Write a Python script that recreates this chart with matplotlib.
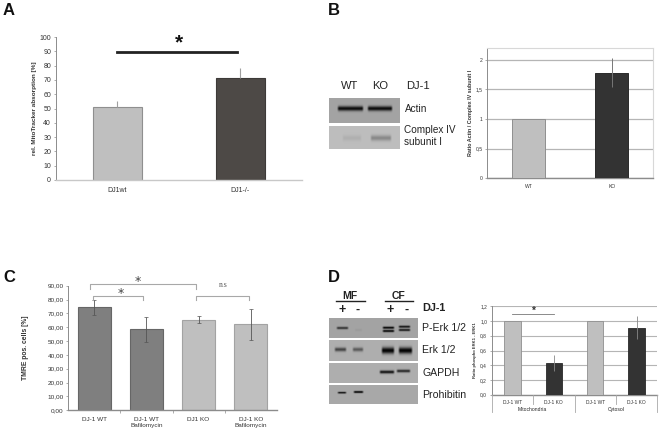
import matplotlib
matplotlib.use("Agg")
import matplotlib.pyplot as plt
import numpy as np

plt.rcParams["font.family"] = ["Liberation Sans", "DejaVu Sans"]

W, H = 661, 434

# panel A
a_labels = ["DJ1wt", "DJ1-/-"]
a_values = [51, 71]
a_err = [4.5, 7.5]
a_ticks = list(range(0, 101, 10))

# panel B
b_labels = ["WT", "KO"]
b_values = [1.0, 1.78]
b_err = [0, 0.25]
b_ticks = [0, 0.5, 1, 1.5, 2]
b_ticklabels = ["0", "0,5", "1", "1,5", "2"]

# panel C
c_labels = ["DJ-1 WT", "DJ-1 WT\nBafilomycin", "DJ1 KO", "DJ-1 KO\nBafilomycin"]
c_values = [74.5, 58.5, 65.5, 62.0]
c_err = [5.5, 9.0, 2.5, 11.0]
c_ticks = list(range(0, 91, 10))

# panel D
d_labels = ["DJ-1 WT", "DJ-1 KO", "DJ-1 WT", "DJ-1 KO"]
d_groups = ["Mitochondria", "Cytosol"]
d_values = [1.0, 0.43, 1.0, 0.91]
d_err = [0, 0.11, 0, 0.16]
d_ticks = [0, 0.2, 0.4, 0.6, 0.8, 1.0, 1.2]

# blots: box in pixels, background grey, bands (x0, x1, y, thickness, darkness)
blots = [
    ((329, 400, 98, 123), 0.64, [(337, 364, 108.5, 2.4, 0.58), (367, 393, 108.5, 2.4, 0.58)]),
    ((329, 400, 126, 149), 0.74, [(342, 362, 138, 3.0, 0.05), (370, 392, 138, 2.8, 0.2)]),
    ((329, 418, 318, 338), 0.64, [(336, 349, 328, 1.3, 0.42), (382, 395, 327.7, 1.2, 0.58), (382, 395, 331, 1.2, 0.58),
                                  (398, 411, 326.7, 1.2, 0.52), (398, 411, 330, 1.2, 0.52), (354, 363, 330, 1.5, 0.03)]),
    ((329, 418, 340, 361), 0.68, [(334, 347, 349.5, 2.0, 0.4), (352, 364, 349.5, 2.0, 0.32),
                                  (381, 395, 350.5, 3.2, 0.66), (398, 413, 350.5, 3.2, 0.66)]),
    ((329, 418, 363, 383), 0.68, [(379, 395, 372, 1.6, 0.58), (396, 411, 371, 1.5, 0.5)]),
    ((329, 418, 385, 404), 0.66, [(337, 347, 392.7, 1.0, 0.55), (353, 364, 392, 1.1, 0.62)]),
]

fig = plt.figure(figsize=(W / 100, H / 100), dpi=100)


def make_axes(left, right, top, bottom):
    return fig.add_axes([left / W, 1 - bottom / H, (right - left) / W, (bottom - top) / H])


def style_axes(ax, color="#8c8c8c", size=4.5):
    for side in ["top", "right"]:
        ax.spines[side].set_visible(False)
    ax.spines["left"].set_color(color)
    ax.spines["bottom"].set_color("#c8c8c8")
    ax.spines["left"].set_linewidth(0.7)
    ax.spines["bottom"].set_linewidth(1.0)
    ax.tick_params(axis="both", labelsize=size, length=1.8, width=0.5, color=color,
                   labelcolor="#333333", pad=1.5)
    ax.patch.set_alpha(0)


# overlay in pixel coordinates for annotations
ov = fig.add_axes([0, 0, 1, 1], zorder=10)
ov.set_xlim(0, W)
ov.set_ylim(H, 0)
ov.axis("off")
ov.patch.set_alpha(0)


def label(x, y, s, size, weight="normal", color="#222222", ha="left", **kw):
    ov.text(x, y, s, fontsize=size, fontweight=weight, color=color, ha=ha, va="center", **kw)


# A
ax = make_axes(55.7, 302, 37, 180)
ax.bar(range(2), a_values, width=0.4, color=["#bfbfbf", "#4d4946"],
       edgecolor=["#8f8f8f", "#3d3a38"], linewidth=0.8)
ax.errorbar(range(2), a_values, yerr=[[0, 0], a_err], fmt="none", ecolor="#a0a0a0", elinewidth=0.8)
ax.set_xlim(-0.5, 1.5)
ax.set_ylim(0, 100)
ax.set_yticks(a_ticks)
ax.set_xticks(range(2), a_labels)
style_axes(ax, size=5)
ax.tick_params(axis="x", length=0, pad=5)
ax.set_ylabel("rel. MitoTracker absorption [%]", fontsize=4.6, fontweight="bold", labelpad=2, color="#333333")
ov.plot([117, 237], [51.5, 51.5], color="#222222", lw=2)
label(179, 43, "*", 15, "bold", ha="center", color="#111111")
label(3, 10.5, "A", 12, "bold", color="#111111")

# B
ax = make_axes(487.3, 653.3, 47.7, 178.3)
ax.bar(range(2), b_values, width=0.4, color=["#bfbfbf", "#333333"],
       edgecolor=["#8f8f8f", "#2a2a2a"], linewidth=0.7, zorder=3)
ax.errorbar(range(2), b_values, yerr=b_err, fmt="none", ecolor="#777777", elinewidth=0.7, zorder=4)
ax.set_xlim(-0.5, 1.5)
ax.set_ylim(0, 2.2)
ax.set_yticks(b_ticks, b_ticklabels)
ax.set_xticks(range(2), b_labels)
style_axes(ax, size=3.6)
ax.spines["top"].set_visible(True)
ax.spines["right"].set_visible(True)
ax.spines["top"].set_color("#d8d8d8")
ax.spines["right"].set_color("#d8d8d8")
ax.spines["bottom"].set_color("#8c8c8c")
ax.grid(axis="y", color="#b5b5b5", lw=0.9, zorder=0)
ax.tick_params(axis="x", length=0, pad=4)
ax.set_ylabel("Ratio Actin / Complex IV subunit I", fontsize=3.9, fontweight="bold", labelpad=2, color="#333333")
label(328, 10.5, "B", 12, "bold", color="#111111")
label(349.5, 86, "WT", 8, ha="center")
label(380.5, 86, "KO", 8, ha="center")
label(406, 86, "DJ-1", 8)
label(404.5, 108.5, "Actin", 7.2)
label(404.5, 130, "Complex IV", 7.2)
label(404.5, 142, "subunit I", 7.2)

# C
ax = make_axes(68.3, 276.7, 285.7, 410.3)
ax.bar(range(4), c_values, width=0.62, color=["#7f7f7f", "#7f7f7f", "#bfbfbf", "#bfbfbf"],
       edgecolor=["#666666", "#666666", "#a3a3a3", "#a3a3a3"], linewidth=0.8)
ax.errorbar(range(4), c_values, yerr=c_err, fmt="none", ecolor="#555555", elinewidth=0.6, capsize=1.2, capthick=0.5)
ax.set_xlim(-0.5, 3.5)
ax.set_ylim(0, 90)
ax.set_yticks(c_ticks, [f"{t},00" for t in c_ticks])
ax.set_xticks(np.arange(0.5, 3, 1), minor=True)
ax.set_xticks(range(4), c_labels)
style_axes(ax, size=4.6)
ax.spines["bottom"].set_color("#8c8c8c")
ax.tick_params(axis="x", which="major", length=0, pad=5)
ax.tick_params(axis="x", which="minor", length=2, width=0.5, color="#8c8c8c")
ax.set_ylabel("TMRE pos. cells [%]", fontsize=4.9, fontweight="bold", labelpad=13, color="#333333")
for x0, x1, y, h in [(90, 195.7, 284.3, 4.5), (93, 142.7, 295.7, 4), (195.7, 248.7, 295.7, 4)]:
    ov.plot([x0, x0, x1, x1], [y + h, y, y, y + h], color="#a8a8a8", lw=0.8)
label(138, 281.5, "*", 9, ha="center", family="DejaVu Sans", color="#444444", fontstyle="normal")
label(121, 293, "*", 9, ha="center", family="DejaVu Sans", color="#444444")
label(223.5, 285, "n.s", 5.5, ha="center", family="Liberation Serif", color="#555555")
label(3, 277.5, "C", 12, "bold", color="#111111")

# D
ax = make_axes(491.7, 657.3, 306.3, 394.7)
ax.bar(range(4), d_values, width=0.4, color=["#bfbfbf", "#333333", "#bfbfbf", "#333333"],
       edgecolor=["#8f8f8f", "#2a2a2a", "#8f8f8f", "#2a2a2a"], linewidth=0.6, zorder=3)
ax.errorbar(range(4), d_values, yerr=d_err, fmt="none", ecolor="#888888", elinewidth=0.6, zorder=4)
ax.set_xlim(-0.5, 3.5)
ax.set_ylim(0, 1.2)
ax.set_yticks(d_ticks, [f"{t:.1f}".replace(".", ",") for t in d_ticks])
ax.set_xticks(range(4), d_labels)
style_axes(ax, size=3.5)
ax.spines["bottom"].set_color("#8c8c8c")
ax.grid(axis="y", color="#b5b5b5", lw=0.8, zorder=0)
ax.tick_params(axis="x", length=0, pad=4)
ax.set_ylabel("Ratio phospho ERK1 - ERK1", fontsize=3.0, fontweight="bold", labelpad=2, color="#333333")
for i in range(5):
    x = 491.7 + i * (657.3 - 491.7) / 4
    ov.plot([x, x], [394.7, 412 if i % 2 == 0 else 404], color="#a8a8a8", lw=0.6)
label(532.5, 409.5, d_groups[0], 3.6, ha="center")
label(616.5, 409.5, d_groups[1], 3.6, ha="center")
ov.plot([512, 554], [313.5, 313.5], color="#777777", lw=0.6)
label(534, 311, "*", 7, "bold", ha="center", color="#333333")
label(328, 277.5, "D", 12, "bold", color="#111111")
label(350, 296, "MF", 7.5, "bold", ha="center")
label(399, 296, "CF", 7.5, "bold", ha="center")
ov.plot([336, 364.5], [301, 301], color="#222222", lw=1)
ov.plot([385, 413], [301, 301], color="#222222", lw=1)
for x, s in [(342, "+"), (358, "-"), (390, "+"), (406.5, "-")]:
    label(x, 310, s, 9, "bold", ha="center")
label(422.5, 308, "DJ-1", 7.8, "bold")
label(422.5, 328, "P-Erk 1/2", 7.6)
label(422.5, 350, "Erk 1/2", 7.6)
label(422.5, 373, "GAPDH", 7.6)
label(422.5, 395, "Prohibitin", 7.6)

# blots
for (x0, x1, y0, y1), bg, bands in blots:
    xx, yy = np.meshgrid(np.arange(x0, x1) + 0.5, np.arange(y0, y1) + 0.5)
    img = np.full(xx.shape, bg)
    for bx0, bx1, by, th, dark in bands:
        prof_x = np.clip((xx - bx0) / 2, 0, 1) * np.clip((bx1 - xx) / 2, 0, 1)
        img -= dark * prof_x * np.exp(-((yy - by) / th) ** 2)
    ov.imshow(np.clip(img, 0, 1), cmap="gray", vmin=0, vmax=1, extent=[x0, x1, y1, y0],
              interpolation="bilinear", aspect="auto")
ov.set_xlim(0, W)
ov.set_ylim(H, 0)

fig.savefig("out.png", dpi=100)
